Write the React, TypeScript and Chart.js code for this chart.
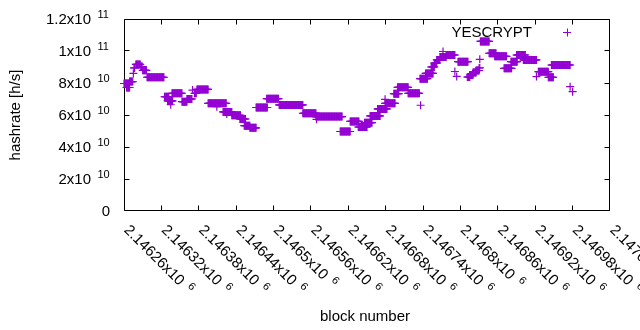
import { useEffect, useRef } from "react";
import { Chart, registerables } from "chart.js";

Chart.register(...registerables);

// Runs of blocks sharing the same estimated hashrate
const runStartBlock = [
  2146260, 2146264, 2146269, 2146275, 2146276, 2146279, 2146287, 2146290, 2146297, 2146325,
  2146330, 2146335, 2146337, 2146353, 2146361, 2146370, 2146373, 2146377, 2146395, 2146409,
  2146419, 2146425, 2146433, 2146446, 2146453, 2146462, 2146472, 2146489, 2146509, 2146547,
  2146568, 2146569, 2146607, 2146623, 2146636, 2146646, 2146655, 2146667, 2146679, 2146679,
  2146693, 2146699, 2146716, 2146736, 2146735, 2146744, 2146753, 2146758, 2146762, 2146767,
  2146772, 2146777, 2146791, 2146794, 2146796, 2146811, 2146815, 2146820, 2146825, 2146830,
  2146831, 2146832, 2146846, 2146855, 2146870, 2146881, 2146890, 2146901, 2146922, 2146925,
  2146941, 2146946, 2146976, 2146980,
];
const runEndBlock = [
  2146268, 2146269, 2146274, 2146275, 2146277, 2146286, 2146289, 2146296, 2146324, 2146332,
  2146338, 2146335, 2146353, 2146361, 2146369, 2146370, 2146376, 2146395, 2146424, 2146409,
  2146433, 2146425, 2146447, 2146455, 2146462, 2146472, 2146490, 2146508, 2146547, 2146568,
  2146610, 2146569, 2146623, 2146637, 2146650, 2146658, 2146671, 2146682, 2146695, 2146679,
  2146701, 2146716, 2146734, 2146736, 2146747, 2146756, 2146758, 2146762, 2146767, 2146777,
  2146772, 2146791, 2146791, 2146794, 2146812, 2146815, 2146820, 2146825, 2146830, 2146831,
  2146831, 2146846, 2146857, 2146874, 2146882, 2146891, 2146904, 2146922, 2146922, 2146941,
  2146949, 2146976, 2146976, 2146980,
];
const runHashrate = [
  7.97e10, 7.72e10, 8.09e10, 8.6e10, 8.94e10, 9.16e10, 9.03e10, 8.79e10, 8.36e10, 7.14e10,
  6.88e10, 6.64e10, 7.36e10, 6.83e10, 7.0e10, 7.56e10, 7.36e10, 7.6e10, 6.73e10, 6.52e10,
  6.19e10, 6.06e10, 5.98e10, 5.75e10, 5.33e10, 5.2e10, 6.47e10, 7.02e10, 6.63e10, 6.11e10,
  5.9e10, 5.73e10, 4.97e10, 5.6e10, 5.25e10, 5.52e10, 5.94e10, 6.38e10, 6.73e10, 6.98e10,
  7.33e10, 7.73e10, 7.36e10, 6.61e10, 8.27e10, 8.6e10, 9.0e10, 9.25e10, 9.44e10, 9.63e10,
  9.97e10, 9.75e10, 8.72e10, 8.41e10, 9.33e10, 8.375e10, 8.5e10, 8.66e10, 8.78e10, 8.94e10,
  9.48e10, 10.6e10, 9.86e10, 9.67e10, 8.92e10, 9.33e10, 9.75e10, 9.44e10, 8.4e10, 8.71e10,
  8.36e10, 9.125e10, 7.77e10, 7.46e10,
];

const seriesName = "YESCRYPT";
const xTitle = "block number";
const yTitle = "hashrate [h/s]";

const xMin = 2146260;
const xMax = 2147040;
const xTickValues = [
  2146260, 2146320, 2146380, 2146440, 2146500, 2146560, 2146620, 2146680, 2146740, 2146800,
  2146860, 2146920, 2146980, 2147040,
];
const xTickLabels = [
  "2.14626x10", "2.14632x10", "2.14638x10", "2.14644x10", "2.1465x10", "2.14656x10", "2.14662x10",
  "2.14668x10", "2.14674x10", "2.1468x10", "2.14686x10", "2.14692x10", "2.14698x10", "2.14704x10",
];
const xTickExponent = "6";

const yMin = 0;
const yMax = 1.2e11;
const yTickValues = [0, 2e10, 4e10, 6e10, 8e10, 1e11, 1.2e11];
const yTickLabels = ["0", "2x10", "4x10", "6x10", "8x10", "1x10", "1.2x10"];
const yTickExponents = ["", "10", "10", "10", "10", "11", "11"];

const COLOR = "#9400d3";
const FONT = "'Liberation Sans', Arial, sans-serif";
const MAIN_PX = 15;
const SUP_PX = 11;
const TICK_LEN = 5;

function buildPoints() {
  const pts: { x: number; y: number }[] = [];
  for (let i = 0; i < runStartBlock.length; i++) {
    for (let b = runStartBlock[i]; b <= runEndBlock[i]; b++) {
      pts.push({ x: b, y: runHashrate[i] });
    }
  }
  return pts;
}

const gnuplotFrame = {
  id: "gnuplotFrame",
  beforeDatasetsDraw(chart: any) {
    const { ctx, chartArea: a, scales } = chart;
    const L = a.left + 0.5, R = a.right - 0.5, T = a.top + 0.5, B = a.bottom - 0.5;
    ctx.save();
    ctx.strokeStyle = "#000";
    ctx.lineWidth = 1;
    ctx.beginPath();
    ctx.rect(L, T, R - L, B - T);
    for (const v of xTickValues) {
      const px = Math.min(Math.floor(scales.x.getPixelForValue(v)) + 0.5, R);
      ctx.moveTo(px, B);
      ctx.lineTo(px, B - TICK_LEN);
      ctx.moveTo(px, T);
      ctx.lineTo(px, T + TICK_LEN);
    }
    for (const v of yTickValues) {
      const py = Math.min(Math.floor(scales.y.getPixelForValue(v)) + 0.5, B);
      ctx.moveTo(L, py);
      ctx.lineTo(L + TICK_LEN, py);
      ctx.moveTo(R, py);
      ctx.lineTo(R - TICK_LEN, py);
    }
    ctx.stroke();
    ctx.restore();
  },
  afterDraw(chart: any) {
    const { ctx, chartArea: a, scales } = chart;
    ctx.save();
    ctx.fillStyle = "#000";
    // y tick labels
    yTickValues.forEach((v, i) => {
      const py = scales.y.getPixelForValue(v);
      const sup = yTickExponents[i];
      ctx.font = `${MAIN_PX}px ${FONT}`;
      ctx.textBaseline = "alphabetic";
      if (!sup) {
        ctx.textAlign = "right";
        ctx.fillText(yTickLabels[i], a.left - 14, py + 5);
      } else {
        ctx.textAlign = "right";
        ctx.fillText(yTickLabels[i], a.left - 33, py + 5);
        ctx.font = `${SUP_PX}px ${FONT}`;
        ctx.textAlign = "left";
        ctx.fillText(sup, a.left - 26.5, py - 0.7);
      }
    });
    // x tick labels, rotated
    xTickValues.forEach((v, i) => {
      const px = scales.x.getPixelForValue(v);
      ctx.save();
      ctx.translate(px + 3, a.bottom + 16);
      ctx.rotate(Math.PI / 4);
      ctx.font = `${MAIN_PX}px ${FONT}`;
      ctx.textAlign = "left";
      ctx.textBaseline = "alphabetic";
      ctx.fillText(xTickLabels[i], 0, 5.3);
      const w = ctx.measureText(xTickLabels[i]).width;
      ctx.font = `${SUP_PX}px ${FONT}`;
      ctx.fillText(xTickExponent, w + 6.5, -0.4);
      ctx.restore();
    });
    // axis titles
    ctx.font = `${MAIN_PX}px ${FONT}`;
    ctx.textAlign = "center";
    ctx.textBaseline = "alphabetic";
    ctx.fillText(xTitle, 365, 321);
    ctx.save();
    ctx.translate(20, (a.top + a.bottom) / 2);
    ctx.rotate(-Math.PI / 2);
    ctx.fillText(yTitle, 0, 0);
    ctx.restore();
    // key
    ctx.textAlign = "right";
    ctx.fillText(seriesName, 532, 37);
    ctx.strokeStyle = COLOR;
    ctx.lineWidth = 1;
    ctx.beginPath();
    ctx.moveTo(563, 32.5);
    ctx.lineTo(571, 32.5);
    ctx.moveTo(567.5, 28.5);
    ctx.lineTo(567.5, 36.5);
    ctx.stroke();
    ctx.restore();
  },
};

export default function App() {
  const canvasRef = useRef<HTMLCanvasElement | null>(null);
  useEffect(() => {
    const canvas = canvasRef.current;
    if (!canvas) return;
    const chart = new Chart(canvas, {
      type: "scatter",
      data: {
        datasets: [
          {
            label: seriesName,
            data: buildPoints(),
            pointStyle: "cross",
            pointRadius: 4,
            pointHoverRadius: 4,
            pointBorderWidth: 1.2,
            borderColor: COLOR,
            backgroundColor: COLOR,
            clip: false as any,
          },
        ],
      },
      options: {
        responsive: false,
        animation: false,
        events: [],
        devicePixelRatio: 1,
        layout: { padding: { left: 124, top: 19, right: 30, bottom: 119 } },
        scales: {
          x: { type: "linear", min: xMin, max: xMax, display: false },
          y: { type: "linear", min: yMin, max: yMax, display: false },
        },
        plugins: { legend: { display: false }, tooltip: { enabled: false } },
      },
      plugins: [gnuplotFrame],
    });
    return () => chart.destroy();
  }, []);
  return (
    <div style={{ position: "fixed", left: 0, top: 0, width: 640, height: 330, background: "#fff" }}>
      <canvas ref={canvasRef} width={640} height={330} style={{ width: 640, height: 330 }} />
    </div>
  );
}
